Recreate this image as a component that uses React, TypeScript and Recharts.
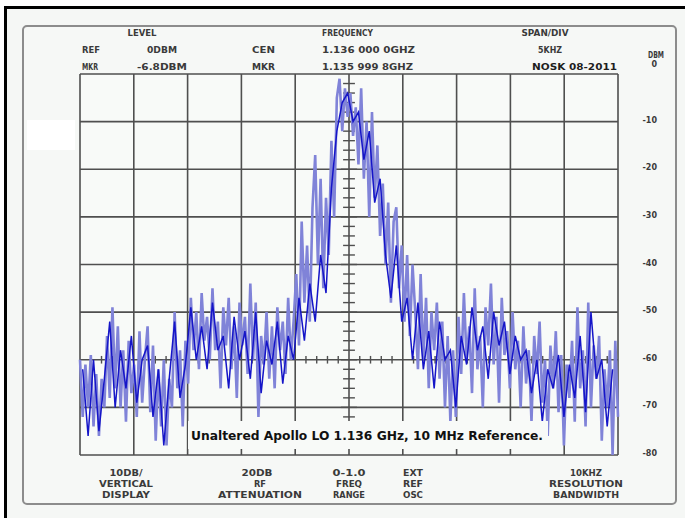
import React from "react";
import { LineChart, Line, XAxis, YAxis, ReferenceLine } from "recharts";

// graticule: level in dBm (right axis), frequency offset in kHz (5 kHz/div)
const levelTicks = [0, -10, -20, -30, -40, -50, -60, -70, -80];
const freqTicks = [-25, -20, -15, -10, -5, 0, 5, 10, 15, 20, 25];

// main sweep (light trace) left to right
const sweepA = [
    -60, -72, -61, -70, -59, -74, -63, -76, -64, -70,
    -55, -68, -49, -66, -53, -70, -58, -73, -56, -67,
    -61, -72, -54, -69, -60, -53, -71, -57, -77, -62,
    -74, -60, -78, -64, -70, -50, -66, -58, -74, -56,
    -65, -47, -58, -50, -62, -46, -56, -51, -60, -45,
    -58, -52, -66, -49, -57, -47, -62, -53, -68, -48,
    -57, -51, -63, -44, -60, -48, -72, -55, -61, -50,
    -64, -53, -66, -49, -58, -52, -63, -47, -60, -52,
    -42, -57, -31, -48, -36, -52, -28, -17, -40, -22,
    -45, -26, -38, -14, -30, -5, -1, -12, -3, -9,
    -4, -13, -7, -19, -3, -22, -10, -30, -8, -26,
    -15, -34, -23, -40, -27, -48, -31, -28, -45, -36,
    -52, -38, -55, -40, -50, -62, -42, -60, -47, -66,
    -50, -58, -48, -64, -52, -70, -55, -73, -58, -72,
    -51, -63, -46, -60, -53, -67, -45, -62, -55, -70,
    -49, -57, -44, -61, -51, -69, -47, -59, -54, -66,
    -50, -62, -56, -70, -53, -65, -58, -73, -55, -63,
    -52, -69, -60, -76, -57, -66, -54, -71, -59, -78,
    -61, -68, -56, -73, -49, -66, -58, -74, -48, -70,
    -57, -64, -55, -77, -62, -70, -58, -80, -56, -72,
];

// second sweep (dark trace), sampled between the points of the first
const sweepB = [
    -62, -76, -60, -75, -64, -52, -70, -58, -66, -55,
    -69, -60, -57, -72, -62, -78, -64, -52, -68, -61,
    -49, -60, -53, -62, -48, -58, -55, -66, -51, -60,
    -54, -64, -50, -67, -56, -61, -52, -65, -55, -60,
    -47, -56, -44, -52, -38, -46, -24, -12, -6, -4,
    -10, -8, -18, -12, -27, -22, -38, -47, -36, -52,
    -47, -60, -48, -62, -54, -66, -52, -60, -58, -70,
    -55, -61, -49, -58, -53, -64, -50, -57, -52, -63,
    -55, -60, -58, -67, -60, -73, -62, -66, -59, -72,
    -61, -68, -55, -71, -50, -64, -60, -74, -62,
];

const spanKHz = 50;
const dataA = sweepA.map((v, i) => ({ f: -25 + (i * spanKHz) / (sweepA.length - 1), a: v }));
const stepB = spanKHz / (sweepA.length - 1);
const dataB = sweepB.map((v, j) => ({ f: -25 + (2 * j + 1) * stepB, b: v }));

// minor graticule marks on the centre frequency line and the -60 line
const centreMarks: number[] = [];
for (let l = -78; l < 0; l += 2) centreMarks.push(l);
const levelLineMarks: number[] = [];
for (let f = -24; f < 25; f += 1) if (f % 5 !== 0) levelLineMarks.push(f);

const GRID = "#4f4f4f";
const TXT = "#3a3a3a";
const FONT = "'DejaVu Sans', sans-serif";

function T({ x, y, len, anchor = "start", children, fill = TXT, size = 8.5 }: any) {
    return (
        <text
            x={x}
            y={y}
            textAnchor={anchor}
            textLength={len}
            lengthAdjust="spacingAndGlyphs"
            fontFamily={FONT}
            fontWeight="bold"
            fontSize={size}
            fill={fill}
        >
            {children}
        </text>
    );
}

function LevelTick(props: any) {
    const { y, payload } = props;
    const v = payload.value;
    return (
        <text
            x={657}
            y={v === 0 ? y - 7 : y + 1}
            textAnchor="end"
            fontFamily={FONT}
            fontWeight="bold"
            fontSize={8}
            fill={TXT}
        >
            {String(v)}
        </text>
    );
}

export default function App() {
    return (
        <div style={{ position: "absolute", left: 0, top: 0, width: 685, height: 518, background: "#ffffff", overflow: "hidden" }}>
            <svg width={685} height={518} style={{ position: "absolute", left: 0, top: 0 }}>
                <rect x={5.5} y={7.5} width={720} height={540} fill="#f5f7f5" stroke="#000" strokeWidth={3} />
                <rect x={23} y={26} width={653} height={478} rx={4} fill="#f6f8f6" stroke="#8c8c8c" strokeWidth={2} />
                <rect x={27} y={120} width={48} height={30} fill="#ffffff" />
                <rect x={80} y={74} width={538} height={381} fill="#f8faf8" />

                <T x={142} y={36} len={29} anchor="middle">LEVEL</T>
                <T x={82} y={53} len={18}>REF</T>
                <T x={147} y={53} len={30}>0DBM</T>
                <T x={82} y={70} len={16}>MKR</T>
                <T x={137} y={70} len={50}>-6.8DBM</T>
                <T x={322} y={36} len={51}>FREQUENCY</T>
                <T x={252} y={53} len={23}>CEN</T>
                <T x={322} y={53} len={93}>1.136 000 0GHZ</T>
                <T x={252} y={70} len={23}>MKR</T>
                <T x={322} y={70} len={91}>1.135 999 8GHZ</T>
                <T x={545} y={36} len={47} anchor="middle">SPAN/DIV</T>
                <T x={550} y={53} len={24} anchor="middle">5KHZ</T>
                <T x={617} y={70} len={85} anchor="end" fill="#1e1e1e" size={9}>NOSK 08-2011</T>
                <T x={648} y={58} len={16} size={8.5}>DBM</T>

                <T x={126} y={476} len={33} anchor="middle">10DB/</T>
                <T x={126} y={487} len={54} anchor="middle">VERTICAL</T>
                <T x={126} y={498} len={48} anchor="middle">DISPLAY</T>
                <T x={257} y={476} len={31} anchor="middle">20DB</T>
                <T x={260} y={487} len={12} anchor="middle">RF</T>
                <T x={260} y={498} len={84} anchor="middle">ATTENUATION</T>
                <T x={349} y={476} len={33} anchor="middle">0-1.0</T>
                <T x={349} y={487} len={26} anchor="middle">FREQ</T>
                <T x={349} y={498} len={32} anchor="middle">RANGE</T>
                <T x={403} y={476} len={20}>EXT</T>
                <T x={403} y={487} len={20}>REF</T>
                <T x={403} y={498} len={20}>OSC</T>
                <T x={586} y={476} len={32} anchor="middle">10KHZ</T>
                <T x={586} y={487} len={74} anchor="middle">RESOLUTION</T>
                <T x={586} y={498} len={66} anchor="middle">BANDWIDTH</T>
            </svg>

            <div style={{ position: "absolute", left: 0, top: 0 }}>
                <LineChart width={685} height={518} margin={{ top: 74, right: 27, bottom: 63, left: 80 }}>
                    <XAxis
                        dataKey="f"
                        type="number"
                        domain={[-25, 25]}
                        ticks={freqTicks}
                        allowDuplicatedCategory={false}
                        tick={false}
                        tickLine={false}
                        axisLine={false}
                        height={0}
                    />
                    <YAxis
                        orientation="right"
                        type="number"
                        domain={[-80, 0]}
                        ticks={levelTicks}
                        width={40}
                        tickLine={false}
                        axisLine={false}
                        tick={<LevelTick />}
                    />
                    {freqTicks.map(f => (
                        <ReferenceLine key={"v" + f} x={f} stroke={GRID} strokeWidth={1.6} />
                    ))}
                    {levelTicks.map(l => (
                        <ReferenceLine key={"g" + l} y={l} stroke={GRID} strokeWidth={1.6} />
                    ))}
                    {centreMarks.map(l => (
                        <ReferenceLine
                            key={"c" + l}
                            segment={[{ x: l % 10 === 0 ? -0.75 : -0.55, y: l }, { x: l % 10 === 0 ? 0.75 : 0.55, y: l }]}
                            stroke={GRID}
                            strokeWidth={1.4}
                        />
                    ))}
                    {levelLineMarks.map(f => (
                        <ReferenceLine
                            key={"h" + f}
                            segment={[{ x: f, y: -60.8 }, { x: f, y: -59.2 }]}
                            stroke={GRID}
                            strokeWidth={1.4}
                        />
                    ))}
                    <Line
                        data={dataA}
                        dataKey="a"
                        type="linear"
                        stroke="#8083d8"
                        strokeWidth={2.6}
                        strokeLinejoin="miter"
                        dot={false}
                        isAnimationActive={false}
                    />
                    <Line
                        data={dataB}
                        dataKey="b"
                        type="linear"
                        stroke="#1515c8"
                        strokeWidth={1.5}
                        dot={false}
                        isAnimationActive={false}
                    />
                </LineChart>
            </div>

            <svg width={685} height={518} style={{ position: "absolute", left: 0, top: 0, pointerEvents: "none" }}>
                <rect x={188} y={421} width={360} height={28} fill="#f8faf8" />
                <text
                    x={191}
                    y={440}
                    textLength={352}
                    lengthAdjust="spacingAndGlyphs"
                    fontFamily={FONT}
                    fontWeight="bold"
                    fontSize={11.5}
                    fill="#111"
                >
                    Unaltered Apollo LO 1.136 GHz, 10 MHz Reference.
                </text>
            </svg>
        </div>
    );
}
